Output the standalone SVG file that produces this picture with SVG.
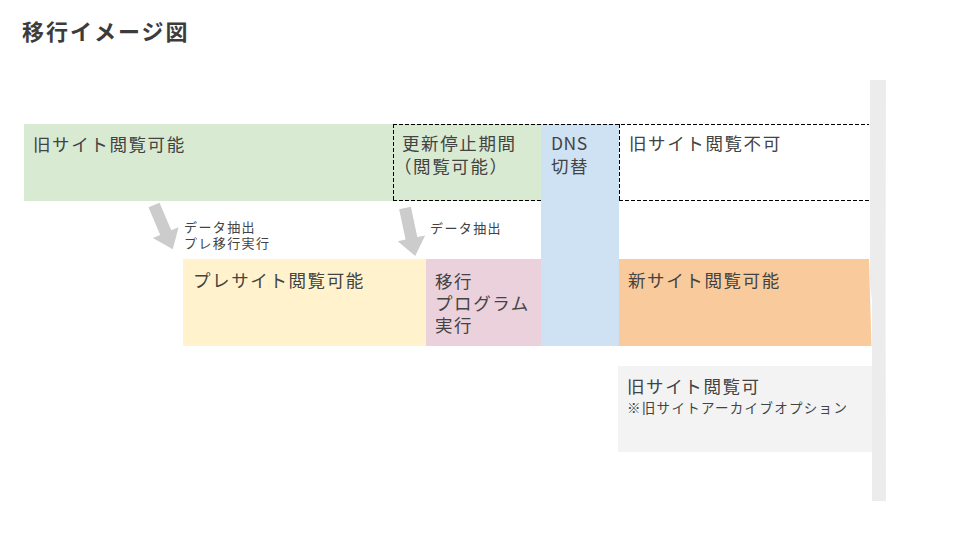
<svg xmlns="http://www.w3.org/2000/svg" width="960" height="540" viewBox="0 0 960 540">
<style>
  text { font-family: "Noto Sans CJK JP", "Noto Sans", sans-serif; fill: #434343; }
  .t { font-size: 17.5px; letter-spacing: 1.6px; }
  .s { font-size: 13px; letter-spacing: 1.4px; }
  .title { font-size: 22px; font-weight: bold; fill: #3c3c3c; letter-spacing: 2px; }
  .dash { fill: none; stroke: #000000; stroke-width: 1; stroke-dasharray: 4 2; }
  .arrow { fill: #cccccc; }
</style>
<rect width="960" height="540" fill="#ffffff"/>
<text class="title" x="22" y="40">移行イメージ図</text>

<g id="timeline-bar">
  <path d="M870,80 L886,80 L885.5,290 L886,501 L872,501 L872,300 Q870.5,292 870,285 Z" fill="#ececec"/>
</g>

<g id="old-site-viewable">
  <rect x="24" y="124" width="517" height="77" fill="#d9ead3"/>
  <text class="t" x="33" y="151">旧サイト閲覧可能</text>
</g>

<g id="update-stop">
  <text class="t" x="402" y="150">更新停止期間</text>
  <text class="t" x="394" y="173">（閲覧可能）</text>
</g>

<g id="dns-switch">
  <rect x="541" y="124" width="78" height="222" fill="#cfe2f3"/>
  <text class="t" x="551" y="150" style="letter-spacing:0.5px">DNS</text>
  <text class="t" x="551" y="173">切替</text>
</g>

<g id="old-site-unavailable">
  <text class="t" x="629" y="150">旧サイト閲覧不可</text>
</g>

<g id="dashed-borders">
  <line class="dash" x1="393" y1="124.5" x2="869" y2="124.5"/>
  <line class="dash" x1="393" y1="200.5" x2="541" y2="200.5"/>
  <line class="dash" x1="619" y1="200.5" x2="869" y2="200.5"/>
  <line class="dash" x1="393.5" y1="124" x2="393.5" y2="201"/>
  <line class="dash" x1="619.5" y1="124" x2="619.5" y2="201"/>
</g>

<g id="pre-site">
  <rect x="183" y="259" width="243" height="87" fill="#fff2cc"/>
  <text class="t" x="193" y="287">プレサイト閲覧可能</text>
</g>

<g id="migration-program">
  <rect x="426" y="259" width="115" height="87" fill="#ead1dc"/>
  <text class="t" x="435" y="288">移行</text>
  <text class="t" x="435" y="310">プログラム</text>
  <text class="t" x="435" y="332">実行</text>
</g>

<g id="new-site">
  <path d="M619,259 L869,259 L871.5,346 L619,346 Z" fill="#f9cb9c"/>
  <text class="t" x="628" y="287">新サイト閲覧可能</text>
</g>

<g id="archive-option">
  <rect x="618" y="366" width="254" height="86" fill="#f3f3f3"/>
  <text class="t" x="627" y="393">旧サイト閲覧可</text>
  <text class="s" x="627" y="413" style="font-size:13.5px;letter-spacing:1.3px">※旧サイトアーカイブオプション</text>
</g>

<g id="connectors">
  <polygon class="arrow" transform="translate(154,205) rotate(67)" points="0,-6 30,-6 30,-14 48,0 30,14 30,6 0,6"/>
  <polygon class="arrow" transform="translate(405,208) rotate(78)" points="0,-6 31,-6 31,-14 49,0 31,14 31,6 0,6"/>
  <text class="s" x="184" y="232">データ抽出</text>
  <text class="s" x="184" y="248">プレ移行実行</text>
  <text class="s" x="430" y="233">データ抽出</text>
</g>
</svg>
